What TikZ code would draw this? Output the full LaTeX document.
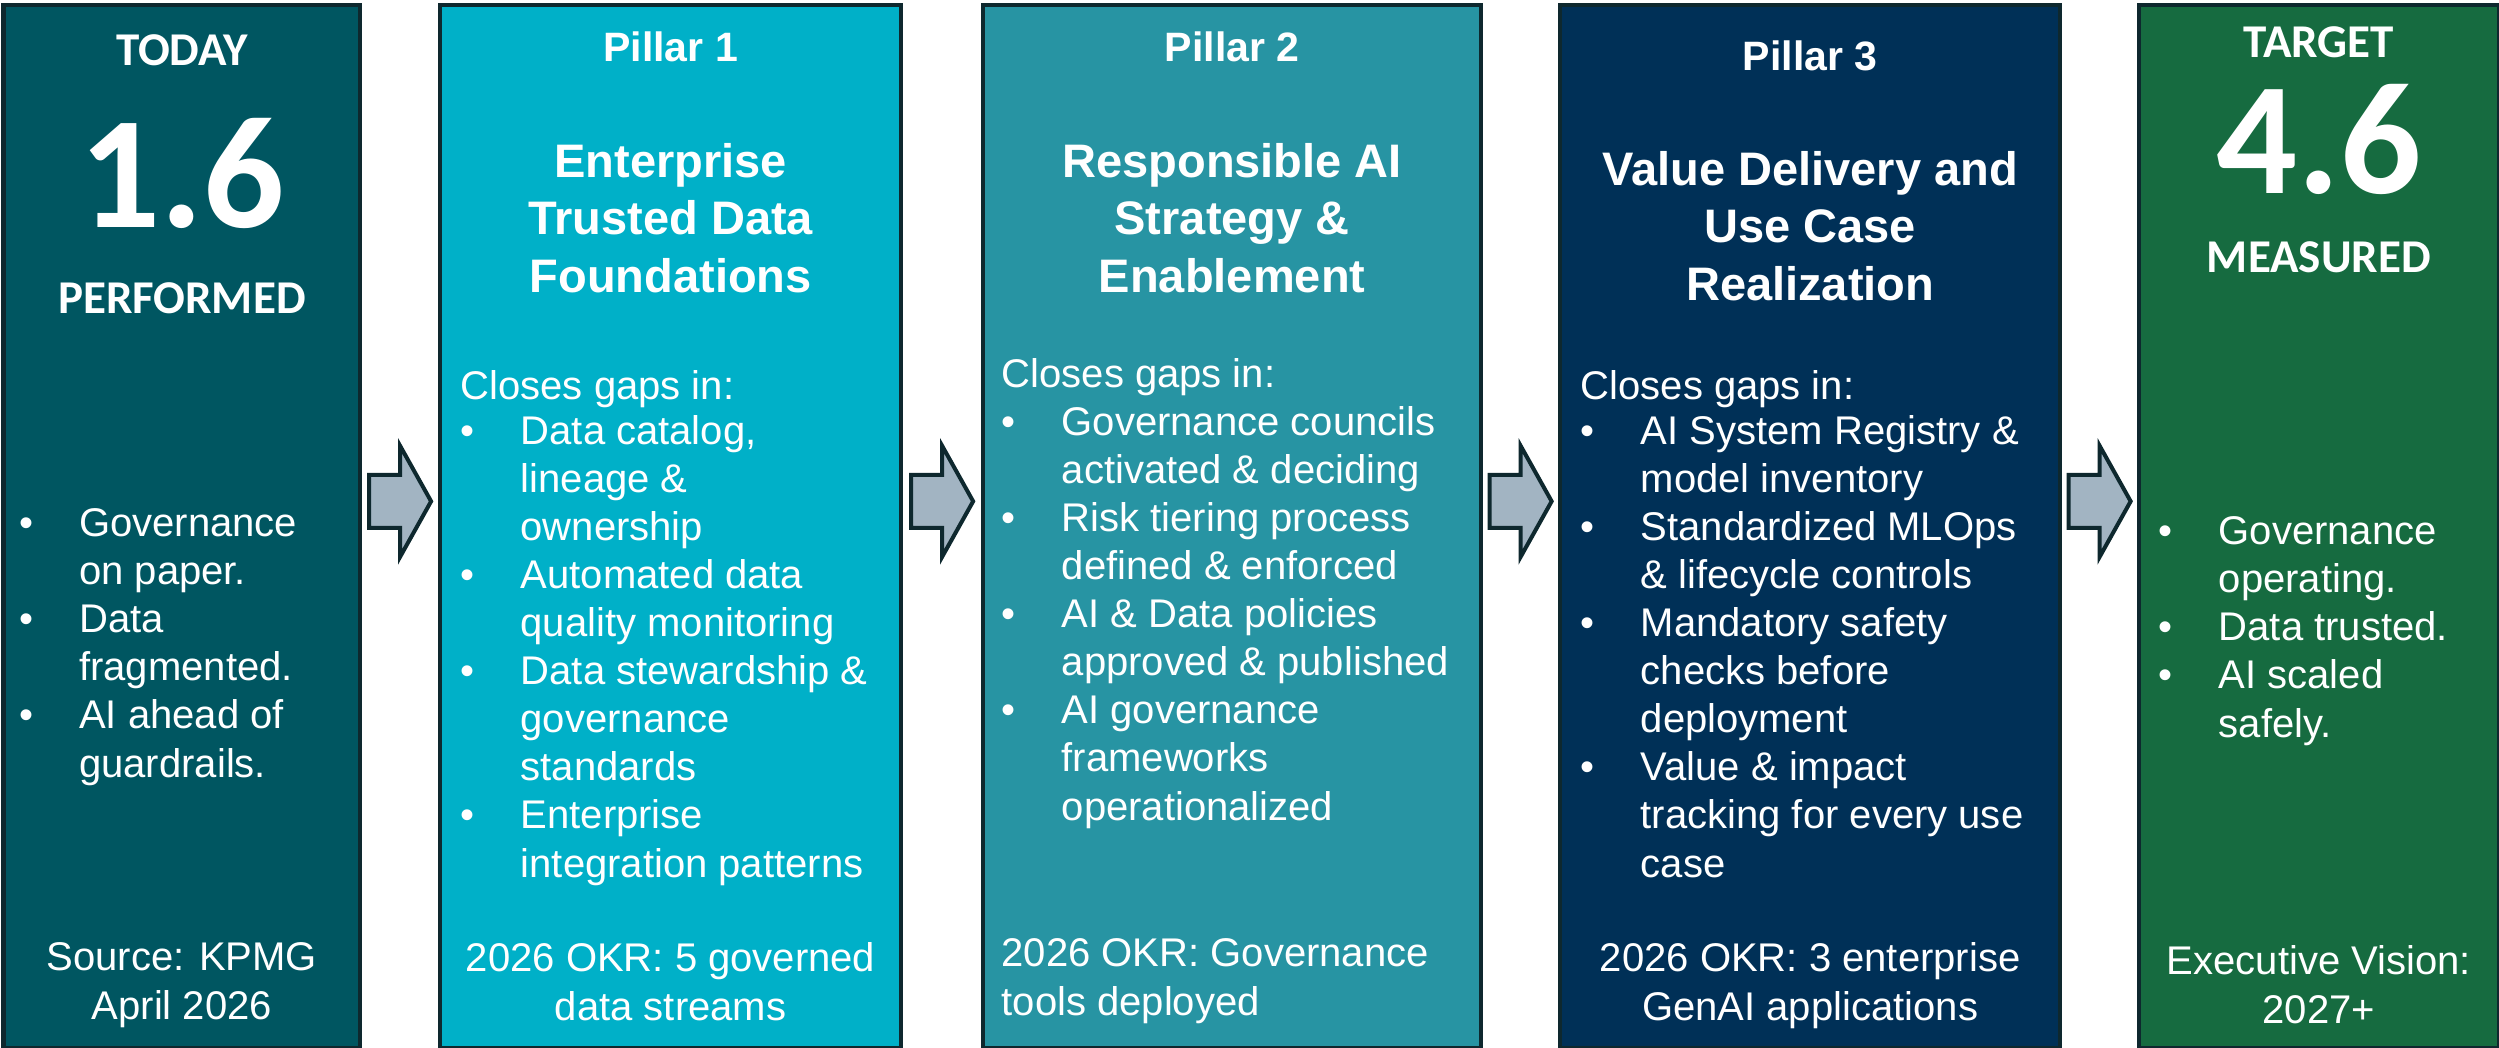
\documentclass[tikz,border=0pt]{standalone}
\usepackage{fontspec}
\setmainfont{Liberation Sans}
\newfontfamily\headfont{Carlito}
\usetikzlibrary{calc}

% column and arrow colours
\definecolor{todayfill}{RGB}{0,86,97}
\definecolor{pillaronefill}{RGB}{0,176,200}
\definecolor{pillartwofill}{RGB}{39,148,163}
\definecolor{pillarthreefill}{RGB}{0,48,87}
\definecolor{targetfill}{RGB}{22,107,64}
\definecolor{arrowfill}{RGB}{162,180,194}
\definecolor{edgeline}{RGB}{14,40,46}

% text sizes (1 unit = 0.01cm)
\newcommand{\bodyfont}{\fontsize{11.38pt}{13.66pt}\selectfont}
\newcommand{\titlefont}{\bfseries\fontsize{13.37pt}{16.22pt}\selectfont}
\newcommand{\pillarfont}{\bfseries\fontsize{11.67pt}{13.66pt}\selectfont}
\newcommand{\stagefont}{\headfont\bfseries\fontsize{13.37pt}{16pt}\selectfont}
\newcommand{\scorefont}{\headfont\bfseries\fontsize{45.5pt}{50pt}\selectfont}
\newcommand{\gapbullet}{\makebox[0.6cm][l]{\textbullet}}
\newcommand{\gapindent}{\hspace*{0.6cm}}

\tikzset{
  colbox/.style={draw=edgeline, line width=1.14pt, inner sep=0pt, anchor=north west, minimum height=10.42cm},
  blockarrow/.style={draw=edgeline, fill=arrowfill, line width=1.14pt},
  whitetext/.style={text=white, inner sep=0pt, anchor=base},
  stage/.style={whitetext, font=\stagefont},
  score/.style={whitetext, font=\scorefont},
  pillarhead/.style={whitetext, font=\pillarfont},
  pillartitle/.style={whitetext, font=\titlefont, align=center},
  gaplist/.style={whitetext, font=\bodyfont, align=left, anchor=base west},
  okrnote/.style={whitetext, font=\bodyfont, align=center},
}

\begin{document}
\begin{tikzpicture}[x=0.01cm, y=-0.01cm]
    \useasboundingbox (0,0) rectangle (2499,1047);

    % --- Columns ---
    \node[colbox, fill=todayfill, minimum width=3.565cm] (today) at (1.5,3) {};
    \node[colbox, fill=pillaronefill, minimum width=4.61cm] (pone) at (438,3) {};
    \node[colbox, fill=pillartwofill, minimum width=4.98cm] (ptwo) at (981,3) {};
    \node[colbox, fill=pillarthreefill, minimum width=5cm] (pthree) at (1558,3) {};
    \node[colbox, fill=targetfill, minimum width=3.595cm] (target) at (2137,3) {};

    % --- Block arrows between columns ---
    \foreach \a/\b in {today/pone, pone/ptwo, ptwo/pthree, pthree/target} {
        \coordinate (mid) at ($(\a.east)!0.5!(\b.west)+(0,-25)$);
        \draw[blockarrow] ($(mid)+(-31,-26.5)$) -- ++(31,0) -- ++(0,-29) -- ++(31,55.5)
            -- ++(-31,55.5) -- ++(0,-29) -- ++(-31,0) -- cycle;
    }

    % multi-line nodes sit on the baseline of their last line

    % --- Today ---
    \node[stage] (todaystage) at ($(today.north)+(0,62)$) {TODAY};
    \node[score] (todayscore) at ($(today.north)+(0,224)$) {1.6};
    \node[stage] (todaylevel) at ($(today.north)+(0,310)$) {PERFORMED};
    \node[gaplist] (todaylist) at ($(today.north west)+(17,774)$)
        {\gapbullet Governance\\ \gapindent on paper.\\ \gapbullet Data\\
         \gapindent fragmented.\\ \gapbullet AI ahead of\\ \gapindent guardrails.};
    \node[okrnote] (todaysource) at ($(today.north)+(0,1016)$) {Source: KPMG\\April 2026};

    % --- Pillar 1 ---
    \node[pillarhead] (ponehead) at ($(pone.north)+(0,58)$) {Pillar 1};
    \node[pillartitle] (ponetitle) at ($(pone.north)+(0,289)$) {Enterprise\\Trusted Data\\Foundations};
    \node[gaplist] (ponelist) at ($(pone.north west)+(22,874)$)
        {Closes gaps in:\\[-0.03cm] \gapbullet Data catalog,\\ \gapindent lineage \&\\
         \gapindent ownership\\ \gapbullet Automated data\\ \gapindent quality monitoring\\
         \gapbullet Data stewardship \&\\ \gapindent governance\\ \gapindent standards\\
         \gapbullet Enterprise\\ \gapindent integration patterns};
    \node[okrnote] (poneokr) at ($(pone.north)+(0,1017)$) {2026 OKR: 5 governed\\data streams};

    % --- Pillar 2 ---
    \node[pillarhead] (ptwohead) at ($(ptwo.north)+(0,58)$) {Pillar 2};
    \node[pillartitle] (ptwotitle) at ($(ptwo.north)+(0,289)$) {Responsible AI\\Strategy \&\\Enablement};
    \node[gaplist] (ptwolist) at ($(ptwo.north west)+(20,817)$)
        {Closes gaps in:\\ \gapbullet Governance councils\\ \gapindent activated \& deciding\\
         \gapbullet Risk tiering process\\ \gapindent defined \& enforced\\
         \gapbullet AI \& Data policies\\ \gapindent approved \& published\\
         \gapbullet AI governance\\ \gapindent frameworks\\ \gapindent operationalized};
    \node[okrnote, align=left, anchor=base west] (ptwookr) at ($(ptwo.north west)+(20,1012)$)
        {2026 OKR: Governance\\tools deployed};

    % --- Pillar 3 ---
    \node[pillarhead] (pthreehead) at ($(pthree.north)+(0,67)$) {Pillar 3};
    \node[pillartitle] (pthreetitle) at ($(pthree.north)+(0,297)$) {Value Delivery and\\Use Case\\Realization};
    \node[gaplist] (pthreelist) at ($(pthree.north west)+(22,874)$)
        {Closes gaps in:\\[-0.03cm] \gapbullet AI System Registry \&\\ \gapindent model inventory\\
         \gapbullet Standardized MLOps\\ \gapindent \& lifecycle controls\\
         \gapbullet Mandatory safety\\ \gapindent checks before\\ \gapindent deployment\\
         \gapbullet Value \& impact\\ \gapindent tracking for every use\\ \gapindent case};
    \node[okrnote] (pthreeokr) at ($(pthree.north)+(0,1017)$) {2026 OKR: 3 enterprise\\GenAI applications};

    % --- Target ---
    \node[stage] (targetstage) at ($(target.north)+(0,54)$) {TARGET};
    \node[score] (targetscore) at ($(target.north)+(0,190)$) {4.6};
    \node[stage] (targetlevel) at ($(target.north)+(0,269)$) {MEASURED};
    \node[gaplist] (targetlist) at ($(target.north west)+(21,734)$)
        {\gapbullet Governance\\ \gapindent operating.\\ \gapbullet Data trusted.\\
         \gapbullet AI scaled\\ \gapindent safely.};
    \node[okrnote] (targetvision) at ($(target.north)+(0,1020)$) {Executive Vision:\\2027+};

\end{tikzpicture}
\end{document}
